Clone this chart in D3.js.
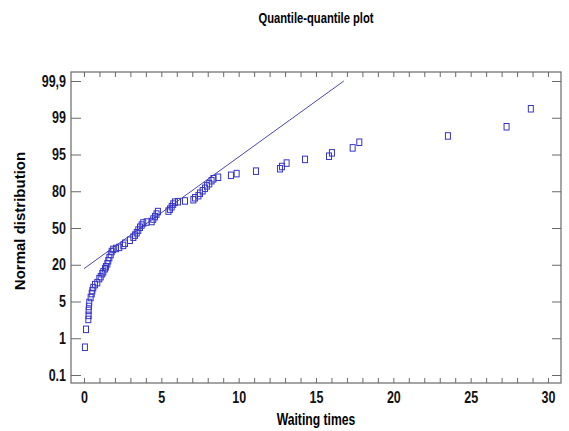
<!DOCTYPE html>
<html>
<head>
<meta charset="utf-8">
<script src="https://cdn.jsdelivr.net/npm/d3@7"></script>
<style>
body { margin: 0; background: #fff; }
text { font-family: "Liberation Sans", Arial, sans-serif; font-weight: bold; }
</style>
</head>
<body>
<svg id="chart" width="569" height="431"></svg>
<script>
// sorted waiting times (x) and their plotted cumulative percentage (y)
const waitTimes = [0.06, 0.13, 0.28, 0.30, 0.30, 0.32, 0.34, 0.43, 0.50, 0.54,
    0.60, 0.71, 0.86, 0.99, 1.08, 1.18, 1.25, 1.36, 1.42, 1.51,
    1.57, 1.64, 1.73, 1.79, 1.89, 2.07, 2.28, 2.54, 2.65, 2.97,
    3.19, 3.30, 3.41, 3.51, 3.62, 3.73, 3.83, 4.05, 4.38, 4.48,
    4.59, 4.69, 4.78, 5.46, 5.56, 5.67, 5.77, 5.88, 6.08, 6.53,
    7.07, 7.18, 7.40, 7.50, 7.67, 7.82, 7.95, 8.10, 8.25, 8.37,
    8.68, 9.50, 9.87, 11.12, 12.67, 12.80, 13.10, 14.29, 15.84, 16.03,
    17.37, 17.80, 23.53, 27.32, 28.89]
const cumPct = [0.78, 1.97, 3.05, 3.49, 4.03, 4.46, 4.89, 6.62, 8.24, 9.46,
    10.67, 11.89, 12.70, 14.32, 15.14, 16.35, 17.16, 18.38, 19.19, 20.8,
    23.3, 25.8, 28.3, 30.8, 32.5, 33.3, 34.2, 35.8, 37.5, 40.0,
    42.5, 44.2, 46.1, 48.3, 50.6, 52.4, 54.1, 54.9, 55.3, 57.3,
    59.3, 61.4, 63.4, 63.8, 65.4, 67.4, 69.5, 71.1, 71.5, 72.1,
    73.1, 74.7, 76.4, 78.4, 80.2, 81.2, 82.2, 83.1, 84.3, 85.1,
    85.7, 86.5, 87.2, 88.2, 89.2, 90.1, 91.5, 93.0, 94.3, 95.18,
    95.72, 96.33, 97.02, 98.02, 99.22]

// reference line end points
const fitX = [0, 16.8]
const fitPct = [18.4, 99.9]

const pctTicks = [0.1, 1, 5, 20, 50, 80, 95, 99, 99.9]
const pctLabels = ["0.1", "1", "5", "20", "50", "80", "95", "99", "99,9"]
const xTicks = [0, 5, 10, 15, 20, 25, 30]

const svg = d3.select("#chart")
const box = {left: 71, top: 72, right: 561, bottom: 383}
const frameCol = "#6a6a6a"

// the original uses a narrow bold face; squeeze the regular one
function narrow(sel, k) {
    sel.each(function () {
        const w = this.getComputedTextLength()
        if (w > 0) d3.select(this).attr("textLength", w * k).attr("lengthAdjust", "spacingAndGlyphs")
    })
}

const x = d3.scaleLinear().domain([-0.84, 30.84]).range([box.left, box.right])

// probability axis: the labelled percentages sit at equal steps
const yTop = box.top + 9, yBot = box.bottom - 8
const step = (yBot - yTop) / (pctTicks.length - 1)
const y = d3.scaleLinear()
    .domain(pctTicks)
    .range(pctTicks.map((d, i) => yBot - i * step))

const minor = d3.range(0, 31)

const gBottom = svg.append("g")
    .attr("transform", `translate(0,${box.bottom})`)
    .call(d3.axisBottom(x).tickValues(minor).tickSize(-5).tickPadding(9)
        .tickFormat(d => xTicks.includes(d) ? d : ""))
const gTop = svg.append("g")
    .attr("transform", `translate(0,${box.top})`)
    .call(d3.axisTop(x).tickValues(minor).tickSize(-5).tickFormat(""))
const gLeft = svg.append("g")
    .attr("transform", `translate(${box.left},0)`)
    .call(d3.axisLeft(y).tickValues(pctTicks).tickSize(-10).tickPadding(5)
        .tickFormat((d, i) => pctLabels[i]))
const gRight = svg.append("g")
    .attr("transform", `translate(${box.right},0)`)
    .call(d3.axisRight(y).tickValues(pctTicks).tickSize(-9).tickFormat(""))

for (const g of [gBottom, gTop, gLeft, gRight]) {
    g.select(".domain").remove()
    g.selectAll("line").attr("stroke", frameCol)
    g.selectAll("text").attr("fill", "#111").style("font-size", "16px")
        .style("font-family", "'Liberation Sans', Arial, sans-serif")
        .call(narrow, 0.78)
}

svg.append("rect")
    .attr("x", box.left).attr("y", box.top)
    .attr("width", box.right - box.left).attr("height", box.bottom - box.top)
    .attr("fill", "none").attr("stroke", frameCol).attr("stroke-width", 1.2)

svg.append("line")
    .attr("x1", x(fitX[0])).attr("y1", y(fitPct[0]))
    .attr("x2", x(fitX[1])).attr("y2", y(fitPct[1]))
    .attr("stroke", "#4848b0").attr("stroke-width", 1)

const sqW = 5, sqH = 6.5
svg.append("g").selectAll("rect")
    .data(waitTimes)
    .join("rect")
    .attr("x", d => x(d) - sqW / 2)
    .attr("y", (d, i) => y(cumPct[i]) - sqH / 2)
    .attr("width", sqW).attr("height", sqH)
    .attr("fill", "none")
    .attr("stroke", "#3434c8")
    .attr("stroke-width", 1)

svg.append("text")
    .attr("x", (box.left + box.right) / 2).attr("y", 23)
    .attr("text-anchor", "middle")
    .style("font-size", "14px")
    .text("Quantile-quantile plot")
    .call(narrow, 0.8)

svg.append("text")
    .attr("x", (box.left + box.right) / 2).attr("y", 425)
    .attr("text-anchor", "middle")
    .style("font-size", "16px")
    .text("Waiting times")
    .call(narrow, 0.76)

svg.append("text")
    .attr("transform", "translate(25,221) rotate(-90)")
    .attr("text-anchor", "middle")
    .style("font-size", "15px")
    .text("Normal distribution")
</script>
</body>
</html>
